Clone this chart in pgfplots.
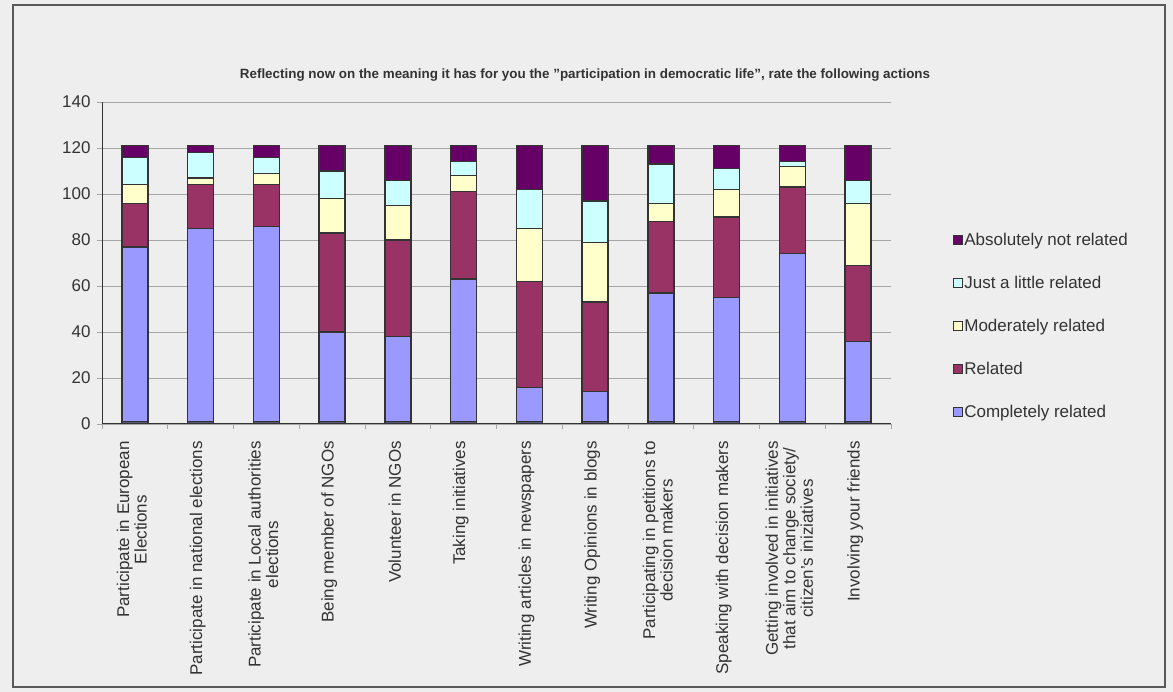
\documentclass[border=0pt]{standalone}
\usepackage{pgfplots}
\pgfplotsset{compat=1.18}
\usepackage{pgfplotstable}
\usepackage{fontspec}
\setmainfont{Liberation Sans}
\definecolor{bg}{HTML}{EEEEEE}
\definecolor{cblue}{HTML}{9999FF}
\definecolor{cred}{HTML}{993366}
\definecolor{cyel}{HTML}{FFFFCC}
\definecolor{ccyan}{HTML}{CCFFFF}
\definecolor{cpurp}{HTML}{660066}
\definecolor{cbase}{HTML}{555577}
\definecolor{edge}{HTML}{333333}
\definecolor{txt}{HTML}{333333}
\definecolor{gridc}{HTML}{A6A6A6}

\pgfplotstableread{
x base blue red yel cyan purp
1 1 76 19 8 12 5
2 1 84 19 3 11 3
3 1 85 18 5 7 5
4 1 39 43 15 12 11
5 1 37 42 15 11 15
6 1 62 38 7 6 7
7 1 15 46 23 17 19
8 1 13 39 26 18 24
9 1 56 31 8 17 8
10 1 54 35 12 9 10
11 1 73 29 9 2 7
12 1 35 33 27 10 15
}\datatable

\begin{document}
\begin{tikzpicture}[x=1pt,y=1pt]
\useasboundingbox (0,0) rectangle (1173,692);
\fill[bg] (0,0) rectangle (1173,692);
\draw[gray!70!black, line width=1.2pt] (13,5) rectangle (1165,687);
\node[font=\fontsize{13.4}{16}\selectfont\bfseries, text=txt] at (585,617) {Reflecting now on the meaning it has for you the "participation in democratic life", rate the following actions};
\begin{axis}[
  at={(102pt,268pt)}, anchor=south west,
  scale only axis, width=789pt, height=322pt,
  ybar stacked, bar width=26pt,
  xmin=0.5, xmax=12.5, ymin=0, ymax=140,
  axis lines*=left,
  axis line style={edge, line width=1pt},
  ytick={0,20,...,140},
  ymajorgrids, grid style={gridc, line width=0.9pt},
  tick align=outside,
  major tick length=5pt, minor tick length=5pt,
  xtick={1,...,12},
  major x tick style={draw=none},
  minor xtick={0.5,1.5,...,12.5},
  minor x tick style={gridc, line width=0.9pt},
  y tick style={gridc, line width=0.9pt},
  /pgf/number format/assume math mode=true,
  ticklabel style={font=\fontsize{17}{17.5}\selectfont, text=txt},
  yticklabel style={xshift=-3pt},
  xticklabels={{Participate in European\\Elections},
    {Participate in national elections},
    {Participate in Local authorities\\elections},
    {Being member of NGOs},
    {Volunteer in NGOs},
    {Taking initiatives},
    {Writing articles in newspapers},
    {Writing Opinions in blogs},
    {Participating in petitions to\\decision makers},
    {Speaking with decision makers},
    {Getting involved in initiatives\\that aim to change society/\\citizen's iniziatives},
    {Involving your friends}},
  xticklabel style={rotate=90, anchor=east, align=center, inner sep=0pt, xshift=-12pt, yshift=3pt},
  every axis plot/.append style={draw=edge, line width=1.3pt},
  legend style={at={(1.078,0.597)}, anchor=north west, draw=none, fill=none,
    font=\fontsize{17}{17.5}\selectfont, text=txt, row sep=26pt,
    inner sep=0pt, nodes={inner sep=1.5pt}},
  legend cell align=left,
  reverse legend,
  legend image code/.code={\draw[#1, line width=1.1pt] (0pt,-4.5pt) rectangle (9pt,4.5pt);},
]
\addplot[fill=cbase, forget plot] table[x=x, y=base] {\datatable};
\addplot[fill=cblue] table[x=x, y=blue] {\datatable};
\addplot[fill=cred] table[x=x, y=red] {\datatable};
\addplot[fill=cyel] table[x=x, y=yel] {\datatable};
\addplot[fill=ccyan] table[x=x, y=cyan] {\datatable};
\addplot[fill=cpurp] table[x=x, y=purp] {\datatable};
\legend{Completely related, Related, Moderately related, Just a little related, Absolutely not related}
\end{axis}
\end{tikzpicture}
\end{document}
